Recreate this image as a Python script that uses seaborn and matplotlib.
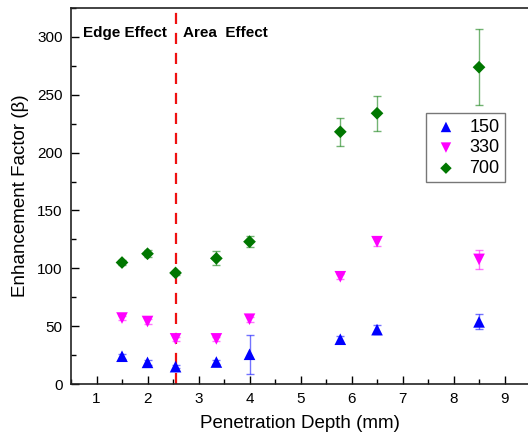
import matplotlib
matplotlib.use("Agg")
import matplotlib.pyplot as plt
import seaborn as sns
import pandas as pd
from matplotlib.ticker import MultipleLocator

# valores
depth = [1.5, 2.0, 2.55, 3.35, 4.0, 5.78, 6.5, 8.5]
b150 = [24, 18.7, 15, 19, 25.7, 38.7, 47, 53.7]
e150 = [2, 2, 1.5, 2, 17, 3, 4, 6.5]
b330 = [57, 54, 39, 39, 56, 92.7, 123, 107.7]
e330 = [2, 2, 2, 2, 2, 2, 4, 8]
b700 = [105, 112.6, 96, 108.6, 123, 218, 234, 273.8]
e700 = [2, 3, 2, 6, 5, 12, 15, 33]
labels = ["150", "330", "700"]
boundary = 2.55

sns.set_style("ticks")
plt.rcParams['font.family'] = ['Liberation Sans', 'DejaVu Sans']
plt.rcParams['text.color'] = 'black'
plt.rcParams['axes.labelcolor'] = 'black'
plt.rcParams['xtick.color'] = 'black'
plt.rcParams['ytick.color'] = 'black'

colors = {"150": "#0000ff", "330": "#ff00ff", "700": "#007700"}
markers = {"150": "^", "330": "v", "700": "D"}
sizes = {"150": 70, "330": 70, "700": 42}

rows = []
for lab, vals, errs in zip(labels, [b150, b330, b700], [e150, e330, e700]):
    for d, v, e in zip(depth, vals, errs):
        rows.append({"depth": d, "beta": v, "err": e, "series": lab})
df = pd.DataFrame(rows)

fig = plt.figure(figsize=(5.28, 4.41), dpi=100)
ax = fig.add_axes([71 / 528, 57 / 441, 457 / 528, 376 / 441])

# barras de error
for lab in labels:
    sub = df[df["series"] == lab]
    ax.errorbar(sub["depth"], sub["beta"], yerr=sub["err"], fmt="none",
                ecolor=colors[lab], alpha=0.55, elinewidth=1, capsize=3, zorder=2)

ax.axvline(boundary, color="#ee1111", linestyle=(0, (5, 4)), linewidth=1.6, zorder=1)

for lab in labels:
    sub = df[df["series"] == lab]
    sns.scatterplot(data=sub, x="depth", y="beta", color=colors[lab],
                    marker=markers[lab], s=sizes[lab], edgecolor="none",
                    label=lab, ax=ax, zorder=3)

ax.text(0.73, 303, "Edge Effect", fontsize=11, fontweight="bold", va="center")
ax.text(2.7, 303, "Area  Effect", fontsize=11, fontweight="bold", va="center")

ax.set_xlim(0.5, 9.46)
ax.set_ylim(0, 325)
ax.xaxis.set_major_locator(MultipleLocator(1))
ax.xaxis.set_minor_locator(MultipleLocator(0.5))
ax.yaxis.set_major_locator(MultipleLocator(50))
ax.yaxis.set_minor_locator(MultipleLocator(25))
ax.tick_params(which="major", direction="in", length=6, width=1, labelsize=11, pad=6)
ax.tick_params(which="minor", direction="in", length=3.5, width=1)
for s in ["left", "bottom", "top"]:
    ax.spines[s].set_color("#222222")
    ax.spines[s].set_linewidth(1.2)
ax.spines["right"].set_visible(False)

ax.set_xlabel("Penetration Depth (mm)", fontsize=13.5, labelpad=6)
ax.set_ylabel("Enhancement Factor (\u03b2)", fontsize=13.5, labelpad=6)

leg = ax.legend(loc="upper left", bbox_to_anchor=(0.777, 0.72), fontsize=13,
                frameon=True, fancybox=False, edgecolor="#555555",
                handletextpad=0.5, handlelength=1.6, borderpad=0.3,
                labelspacing=0.2, markerscale=0.9, borderaxespad=0)
leg.get_frame().set_linewidth(1)

fig.savefig("out.png", dpi=100)
